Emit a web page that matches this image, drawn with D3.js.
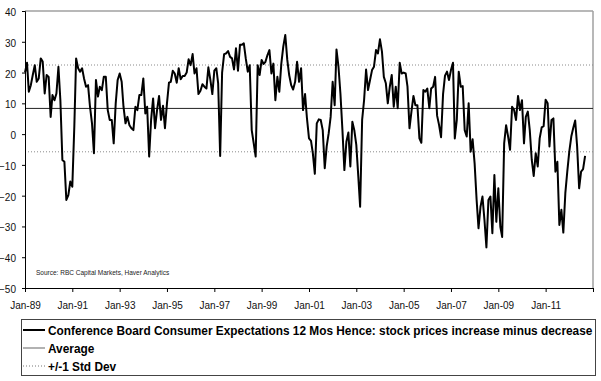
<!DOCTYPE html>
<html>
<head>
<meta charset="utf-8">
<script src="https://cdn.jsdelivr.net/npm/d3@7"></script>
<style>
  html, body { margin: 0; padding: 0; background: #fff; }
  svg { display: block; font-family: "Liberation Sans", Arial, sans-serif; }
</style>
</head>
<body>
<svg id="chart" width="601" height="381"></svg>
<script>
// ---- data ----
const startYear = 1989;           // first observation: Jan-1989, monthly
const seriesName = "Conference Board Consumer Expectations 12 Mos Hence: stock prices increase minus decrease";
const values = [
  20, 23.2, 13.8, 15.9, 19.2, 22.4, 17, 18.1, 24.6, 23.6, 13.2, 19.2,          // 1989
  18.6, 5.6, 12.7, 11, 13.2, 21.9, 11, -8.4, -9, -21.4, -19.8, -15.4,           // 1990
  -17.1, 2.4, 24.6, 21.4, 20.3, 21.4, 18.1, 15.4, 15.9, 8.9, 3.5, -6.2,         // 1991
  17.6, 12.2, 15.4, 14.3, 18.6, 18.6, 7.8, 4.6, 4.6, -3, 10, 17.6,              // 1992
  19.7, 17, 8.9, 3.5, 5.6, 2.9, 1.9, 1.3, 8.9, 7.8, 12.7, 12.7,                 // 1993
  18.1, 6.7, 8.9, -7.3, 4.6, 11.6, 1.9, 7.8, 12.4, 4.6, 9.2, 1.9,               // 1994
  10, 16.7, 17, 20.6, 19.7, 16.7, 21.4, 17.8, 18.9, 18.9, 20, 24.3,             // 1995
  22.4, 26, 19.7, 21.4, 13, 14.1, 16.2, 15.4, 14.8, 21.7, 17.6, 13,             // 1996
  20.6, 21.4, 16.5, -7.1, 20, 26, 26.2, 27, 25.1, 24.6, 21, 27.9,               // 1997
  20.6, 29, 29, 29.5, 24.6, 20.3, 22.4, 1.3, -3, -7.3, 22.4, 19.2,              // 1998
  24.1, 22.8, 23.5, 25.7, 27.3, 19.7, 22.9, 11, 18.6, 13.8, 22.9, 28.4,         // 1999
  32.2, 24.1, 19.2, 15.9, 14.5, 17, 23.5, 17, 21.4, 7.8, 13, 5,                 // 2000
  -1.4, -2.2, -6.2, -12.9, 3.5, 4.8, 4.6, 1.3, -11.1, -4, 0.3, 5.6,             // 2001
  17, 9.4, 27.5, 21.9, 13.2, 1.3, -11.7, -2.5, 0.5, -10.5, 4, 1.3,              // 2002
  -3.5, -13.8, -23.6, 4.6, 11, 21, 14.3, 17.6, 20.8, 21.9, 27.3, 26.2,          // 2003
  30.8, 26.8, 18.6, 16.5, 10, 15.4, 19.2, 8.9, 15.4, 8.4, 23.2, 19.7,           // 2004
  20, 19.7, 15.4, 1.9, 7.3, 12.4, 9.4, 9.4, -1.4, -2.8, 14.3, 13.8,             // 2005
  14.8, 8.4, 14.8, 15.4, 18.6, 6, 3, -1, 13, 19, 20.3, 17.6,                    // 2006
  20.8, 23.2, -1.4, 4.6, 20.3, 15.4, 15.6, 1.3, -0.8, 10, -5.7, -1.7,           // 2007
  -9.5, -21.4, -30.6, -23.6, -20.3, -27.9, -36.8, -21.4, -20.3, -32.2, -13.3, -28.5, // 2008
  -17.6, -30.1, -33.4, -3, 2.9, -0.8, -5.1, 8.9, 7.8, 4.6, 12.4, 7.8,           // 2009
  11, -3, 5.6, 7.3, 1.3, -8.4, -13.6, -6.2, -10.5, -1.4, 2.2, 2.6,              // 2010
  11.2, 10, -4, 4.6, 5.1, -12.2, -9, -29.5, -24.6, -32, -19.2, -12.2,           // 2011
  -5.7, -0.8, 1.9, 4.4, -4, -17.6, -12.2, -11.4, -7.1                           // 2012
];
const average = 8.35;
const stdDev = 14.1;
const yTicks = [40, 30, 20, 10, 0, -10, -20, -30, -40, -50];
const xTickYears = [1989, 1991, 1993, 1995, 1997, 1999, 2001, 2003, 2005, 2007, 2009, 2011, 2013];
const xTickLabels = ["Jan-89", "Jan-91", "Jan-93", "Jan-95", "Jan-97", "Jan-99", "Jan-01", "Jan-03", "Jan-05", "Jan-07", "Jan-09", "Jan-11", ""];
const legendItems = [seriesName, "Average", "+/-1 Std Dev"];
const sourceText = "Source: RBC Capital Markets, Haver Analytics";

// ---- layout ----
const svg = d3.select("#chart");
const plot = { left: 25, right: 593, top: 11, bottom: 288 };

const x = d3.scaleUtc()
  .domain([new Date(Date.UTC(1989, 0, 1)), new Date(Date.UTC(2013, 0, 1))])
  .range([plot.left, plot.right]);
const y = d3.scaleLinear().domain([-50, 40]).range([plot.bottom, plot.top]);

const data = values.map((v, i) => ({ date: new Date(Date.UTC(startYear, i, 1)), v }));

// frame (gray top / right)
svg.append("line").attr("x1", plot.left).attr("x2", plot.right)
  .attr("y1", y(40)).attr("y2", y(40))
  .attr("stroke", "#a0a0a0").attr("stroke-width", 1.5);
svg.append("line").attr("x1", plot.right).attr("x2", plot.right)
  .attr("y1", plot.top).attr("y2", plot.bottom)
  .attr("stroke", "#a0a0a0").attr("stroke-width", 1.5);

// std dev dotted lines
[average + stdDev, average - stdDev].forEach(v => {
  svg.append("line").attr("x1", plot.left).attr("x2", plot.right)
    .attr("y1", y(v)).attr("y2", y(v))
    .attr("stroke", "#8a8a8a").attr("stroke-width", 1)
    .attr("stroke-dasharray", "1,2");
});
// average line
svg.append("line").attr("x1", plot.left).attr("x2", plot.right)
  .attr("y1", y(average)).attr("y2", y(average))
  .attr("stroke", "#222").attr("stroke-width", 1);

// y axis
const yAxis = d3.axisLeft(y).tickValues(yTicks).tickSize(3).tickPadding(6)
  .tickFormat(d3.format("d"));
const gy = svg.append("g").attr("transform", `translate(${plot.left},0)`).call(yAxis);
gy.select(".domain").attr("stroke", "#000");
gy.selectAll(".tick line").attr("stroke", "#000");
gy.selectAll(".tick text").attr("font-size", 10).attr("fill", "#111")
  .attr("font-family", "Liberation Sans, Arial, sans-serif").attr("dy", "0.45em");

// x axis
const xAxis = d3.axisBottom(x)
  .tickValues(xTickYears.map(yr => new Date(Date.UTC(yr, 0, 1))))
  .tickSize(4).tickPadding(10)
  .tickFormat((d, i) => xTickLabels[i]);
const gx = svg.append("g").attr("transform", `translate(0,${plot.bottom})`).call(xAxis);
gx.select(".domain").attr("stroke", "#000");
gx.selectAll(".tick line").attr("stroke", "#000");
gx.selectAll(".tick text").attr("font-size", 10).attr("fill", "#111")
  .attr("font-family", "Liberation Sans, Arial, sans-serif");

// series line
const line = d3.line().x(d => x(d.date)).y(d => y(d.v));
svg.append("path").datum(data).attr("d", line)
  .attr("fill", "none").attr("stroke", "#000").attr("stroke-width", 2)
  .attr("stroke-linejoin", "round");

// source
svg.append("text").attr("x", 36).attr("y", 274.5)
  .attr("font-size", 6.5).attr("fill", "#222").text(sourceText);

// legend
const lg = svg.append("g");
lg.append("rect").attr("x", 21.5).attr("y", 319.5).attr("width", 574).attr("height", 56)
  .attr("fill", "#fff").attr("stroke", "#444").attr("stroke-width", 1);
const rows = [330, 348, 366];
const styles = [
  { stroke: "#000", width: 2, dash: null },
  { stroke: "#999", width: 1.5, dash: null },
  { stroke: "#777", width: 1, dash: "1,2" }
];
legendItems.forEach((t, i) => {
  lg.append("line").attr("x1", 23).attr("x2", 45).attr("y1", rows[i]).attr("y2", rows[i])
    .attr("stroke", styles[i].stroke).attr("stroke-width", styles[i].width)
    .attr("stroke-dasharray", styles[i].dash);
  lg.append("text").attr("x", 48).attr("y", rows[i] + 4.5)
    .attr("font-size", 11.85).attr("font-weight", "bold").attr("fill", "#000").text(t);
});
</script>
</body>
</html>
